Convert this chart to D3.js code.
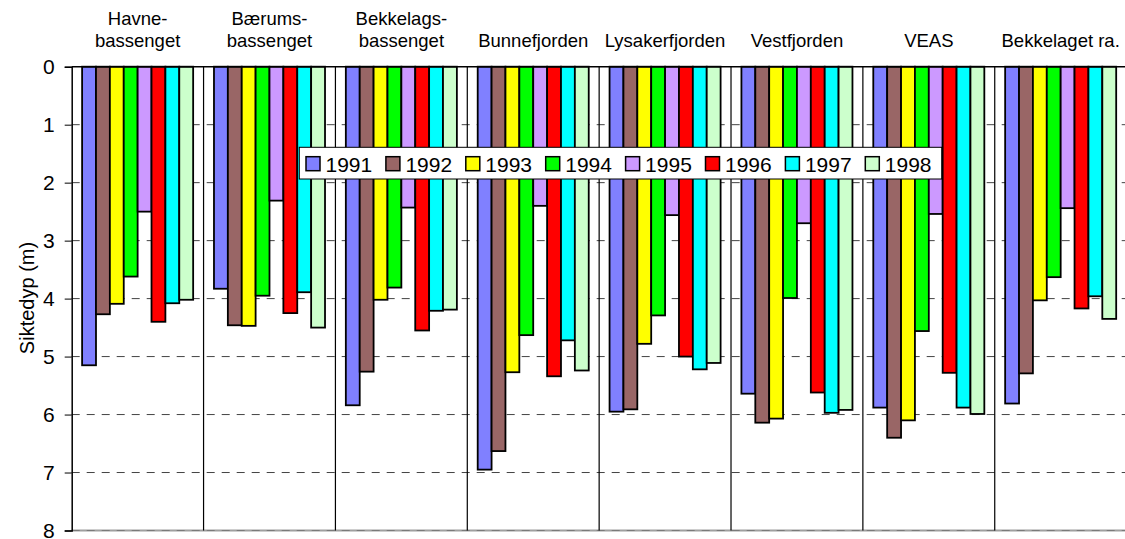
<!DOCTYPE html>
<html>
<head>
<meta charset="utf-8">
<script src="https://cdn.jsdelivr.net/npm/d3@7"></script>
<style>
  html, body { margin: 0; padding: 0; background: #fff; }
  svg { display: block; font-family: Arial, "Liberation Sans", sans-serif; }
</style>
</head>
<body>
<svg id="chart" width="1125" height="539"></svg>
<script>
// ---- data ----
const categories = [
  ["Havne-", "bassenget"],
  ["Bærums-", "bassenget"],
  ["Bekkelags-", "bassenget"],
  ["Bunnefjorden"],
  ["Lysakerfjorden"],
  ["Vestfjorden"],
  ["VEAS"],
  ["Bekkelaget ra."]
];
const years = ["1991", "1992", "1993", "1994", "1995", "1996", "1997", "1998"];
const colors = ["#8080FF", "#996666", "#FFFF00", "#00FF00", "#CC99FF", "#FF0000", "#00FFFF", "#CCFFCC"];
// values per category for each year
const v1991 = [5.15, 3.83, 5.84, 6.95, 5.95, 5.64, 5.88, 5.81];
const v1992 = [4.27, 4.46, 5.26, 6.63, 5.91, 6.14, 6.40, 5.29];
const v1993 = [4.09, 4.47, 4.02, 5.27, 4.78, 6.07, 6.10, 4.03];
const v1994 = [3.62, 3.95, 3.81, 4.63, 4.29, 3.99, 4.56, 3.63];
const v1995 = [2.50, 2.31, 2.43, 2.40, 2.56, 2.70, 2.54, 2.44];
const v1996 = [4.40, 4.25, 4.55, 5.34, 5.00, 5.62, 5.28, 4.17];
const v1997 = [4.08, 3.89, 4.21, 4.72, 5.22, 5.97, 5.88, 3.96];
const v1998 = [4.02, 4.50, 4.19, 5.24, 5.11, 5.92, 5.99, 4.35];
const series = [v1991, v1992, v1993, v1994, v1995, v1996, v1997, v1998];
const yTicks = [0, 1, 2, 3, 4, 5, 6, 7, 8];
const yTitle = "Siktedyp (m)";

// ---- layout ----
const svg = d3.select("#chart");
const mLeft = 71.7, mRight = 1126.6, mTop = 66.7, mBottom = 530.5;

const x0 = d3.scaleBand().domain(d3.range(categories.length)).range([mLeft, mRight]).padding(0);
const x1 = d3.scaleBand().domain(years).range([0, x0.bandwidth()]).paddingInner(0).paddingOuter(0.75);
const y = d3.scaleLinear().domain([0, 8]).range([mTop, mBottom]);

// gridlines (dashed)
svg.append("g").selectAll("line").data(yTicks.filter(d => d > 0)).join("line")
  .attr("x1", mLeft).attr("x2", mRight)
  .attr("y1", d => y(d)).attr("y2", d => y(d))
  .attr("stroke", "#444").attr("stroke-width", 1).attr("stroke-dasharray", "8,7");

// bottom gray line
svg.append("line").attr("x1", mLeft).attr("x2", mRight).attr("y1", y(8)).attr("y2", y(8))
  .attr("stroke", "#888").attr("stroke-width", 2).attr("opacity", 0.8);

// group separators
svg.append("g").selectAll("line").data(d3.range(1, categories.length + 1)).join("line")
  .attr("x1", i => mLeft + i * x0.bandwidth()).attr("x2", i => mLeft + i * x0.bandwidth())
  .attr("y1", y(0)).attr("y2", y(8))
  .attr("stroke", "#000").attr("stroke-width", 1.2);

// bars
const groups = svg.append("g").selectAll("g").data(categories).join("g")
  .attr("transform", (d, i) => `translate(${x0(i)},0)`);
groups.each(function(cat, ci) {
  d3.select(this).selectAll("rect").data(years).join("rect")
    .attr("x", yr => x1(yr))
    .attr("y", y(0))
    .attr("width", x1.bandwidth())
    .attr("height", (yr, si) => y(series[si][ci]) - y(0))
    .attr("fill", (yr, si) => colors[si])
    .attr("stroke", "#000").attr("stroke-width", 1.8);
});

// top line at 0
svg.append("line").attr("x1", mLeft).attr("x2", mRight).attr("y1", y(0)).attr("y2", y(0))
  .attr("stroke", "#000").attr("stroke-width", 1.5);

// y axis
const yAxis = d3.axisLeft(y).tickValues(yTicks).tickSize(7).tickPadding(10).tickFormat(d3.format("d"));
const ga = svg.append("g").attr("transform", `translate(${mLeft},0)`).call(yAxis);
ga.select(".domain").attr("stroke", "#000").attr("stroke-width", 1.5);
ga.selectAll(".tick line").attr("stroke", "#000").attr("stroke-width", 1);
ga.selectAll(".tick text").attr("font-size", 21).attr("fill", "#000")
  .attr("font-family", "Arial, 'Liberation Sans', sans-serif");

// y title
svg.append("text").attr("transform", `translate(34,298) rotate(-90)`)
  .attr("text-anchor", "middle").attr("font-size", 20).attr("fill", "#000").text(yTitle);

// category labels
svg.append("g").selectAll("text").data(categories).join("text")
  .attr("text-anchor", "middle").attr("font-size", 18.5).attr("fill", "#000")
  .attr("x", (d, i) => x0(i) + x0.bandwidth() / 2)
  .each(function(lines) {
    const t = d3.select(this);
    const n = lines.length;
    lines.forEach((ln, k) => {
      t.append("tspan").attr("x", t.attr("x")).attr("y", 47 - (n - 1 - k) * 22).text(ln);
    });
  });

// legend
const lg = svg.append("g");
lg.append("rect").attr("x", 299.3).attr("y", 147.3).attr("width", 642.4).attr("height", 31.7)
  .attr("fill", "#fff").attr("stroke", "#000").attr("stroke-width", 1);
const items = lg.selectAll("g").data(years).join("g")
  .attr("transform", (d, i) => `translate(${306 + i * 79.9},0)`);
items.append("rect").attr("x", 0).attr("y", 156.7).attr("width", 14).attr("height", 14)
  .attr("fill", (d, i) => colors[i]).attr("stroke", "#000").attr("stroke-width", 1.5);
items.append("text").attr("x", 19.5).attr("y", 171.7).attr("font-size", 21).attr("fill", "#000").text(d => d);
</script>
</body>
</html>
